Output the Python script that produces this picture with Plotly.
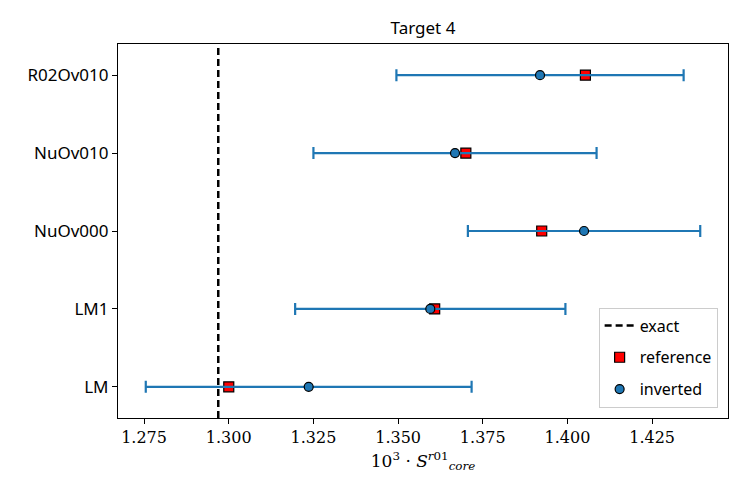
import plotly.graph_objects as go

# values
models = ["LM", "LM1", "NuOv000", "NuOv010", "R02Ov010"]
inverted = [1.3236, 1.3595, 1.4049, 1.3668, 1.3919]
inverted_err = [0.0481, 0.0399, 0.0343, 0.0418, 0.0424]
reference = [1.3000, 1.3608, 1.3924, 1.3700, 1.4053]
exact = 1.2969
x_ticks = [1.275, 1.300, 1.325, 1.350, 1.375, 1.400, 1.425]

ypos = list(range(len(models)))
y_lo, y_hi = -0.4, len(models) - 1 + 0.4

SANS = "Noto Sans"
SERIF = "DejaVu Serif"
BLUE = "#1f77b4"

# the page body adds an 8px offset, so the figure is a bit smaller than the window
W, H = 739, 490

fig = go.Figure()

fig.add_trace(go.Scatter(x=[exact, exact], y=[y_lo, y_hi],
                         mode='lines', name='exact', legendgroup='a',
                         line=dict(color='black', width=2.5, dash='7px,4px')))

fig.add_trace(go.Scatter(x=reference, y=ypos, mode='markers', name='reference',
                         legendgroup='b',
                         marker=dict(symbol='square', size=10, color='red',
                                     line=dict(color='black', width=1.2))))

fig.add_trace(go.Scatter(x=inverted, y=ypos, mode='markers', name='inverted',
                         legendgroup='c',
                         error_x=dict(type='data', array=inverted_err, visible=True,
                                      color=BLUE, thickness=2.2, width=6),
                         marker=dict(symbol='circle', size=9, color=BLUE,
                                     line=dict(color='black', width=1.2))))

fig.update_layout(
    width=W, height=H,
    margin=dict(l=110, r=19, t=36, b=80),
    paper_bgcolor='white', plot_bgcolor='white',
    title=dict(text='Target 4', x=415 / W, xanchor='center',
               y=1 - 20 / H, yanchor='middle',
               font=dict(family=SANS, size=17, color='black')),
    showlegend=True,
    legend=dict(x=0.983, y=0.028, xanchor='right', yanchor='bottom',
                bgcolor='white', bordercolor='#cccccc', borderwidth=1,
                font=dict(family=SANS, size=16, color='black'),
                tracegroupgap=8),
)

fig.update_xaxes(range=[1.2673, 1.4474], tickvals=x_ticks,
                 ticktext=[f"{v:.3f}" for v in x_ticks],
                 tickfont=dict(family=SERIF, size=16, color='black'),
                 ticks='outside', ticklen=5, tickwidth=1.2, tickcolor='black',
                 showline=True, linecolor='black', linewidth=1.2, mirror=True,
                 showgrid=False, zeroline=False, automargin=False,
                 title=dict(text='10<sup>3</sup> · <i>S</i><sup><i>r</i>01</sup><sub><i>core</i></sub>',
                            font=dict(family=SERIF, size=17, color='black'),
                            standoff=8))

fig.update_yaxes(range=[y_lo, y_hi], tickvals=ypos, ticktext=models,
                 tickfont=dict(family=SANS, size=17, color='black'),
                 ticks='outside', ticklen=5, tickwidth=1.2, tickcolor='black',
                 showline=True, linecolor='black', linewidth=1.2, mirror=True,
                 showgrid=False, zeroline=False, automargin=False)

fig.write_html("out.html")
